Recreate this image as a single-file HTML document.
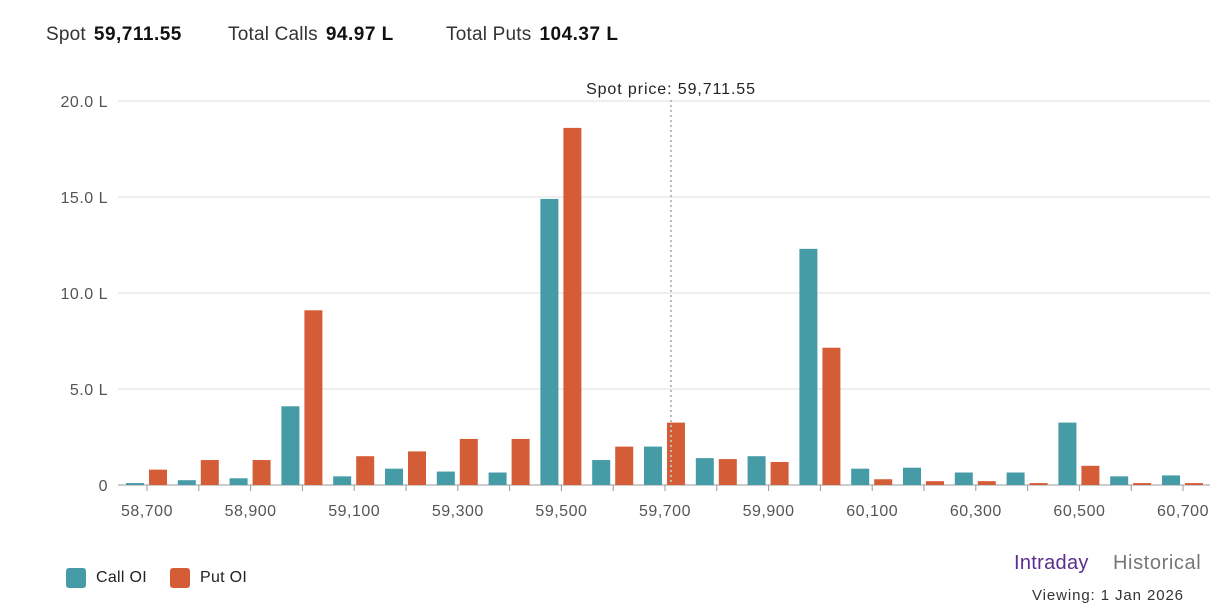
<!DOCTYPE html>
<html><head><meta charset="utf-8">
<style>
body{margin:0;background:#fff;font-family:"Liberation Sans",sans-serif;}
.wrap{position:relative;width:1223px;height:611px;overflow:hidden;}
.hs{position:absolute;top:24px;font-size:19px;color:#333;white-space:nowrap;letter-spacing:0.2px;}
.hs b{color:#111;margin-left:8px;letter-spacing:0.5px;}
.leg{position:absolute;top:568px;font-size:16px;color:#222;display:flex;align-items:center;letter-spacing:0.3px;}
.sw{width:20px;height:20px;border-radius:3px;margin-right:10px;}
</style></head><body>
<div class="wrap">
<div>
<span class="hs" style="left:46px">Spot<b>59,711.55</b></span><span class="hs" style="left:228px">Total Calls<b>94.97 L</b></span><span class="hs" style="left:446px">Total Puts<b>104.37 L</b></span>
</div>
<svg id="chart" width="1223" height="611" style="position:absolute;left:0;top:0"></svg>
<div class="leg" style="left:66px"><div class="sw" style="background:#459ba6"></div>Call OI</div>
<div class="leg" style="left:170px"><div class="sw" style="background:#d45d38"></div>Put OI</div>
<div style="position:absolute;left:1014px;top:552px;font-size:20px;color:#5b2d8e;letter-spacing:0.3px">Intraday</div>
<div style="position:absolute;left:1113px;top:552px;font-size:20px;color:#777;letter-spacing:0.6px">Historical</div>
<div style="position:absolute;left:1032px;top:587px;font-size:15px;color:#333;letter-spacing:0.9px">Viewing: 1 Jan 2026</div>
</div>
<script>
const strikes=[58700,58800,58900,59000,59100,59200,59300,59400,59500,59600,59700,59800,59900,60000,60100,60200,60300,60400,60500,60600,60700];
const callOI=[0.1,0.25,0.35,4.1,0.45,0.85,0.7,0.65,14.9,1.3,2.0,1.4,1.5,12.3,0.85,0.9,0.65,0.65,3.25,0.45,0.5];
const putOI=[0.8,1.3,1.3,9.1,1.5,1.75,2.4,2.4,18.6,2.0,3.25,1.35,1.2,7.15,0.3,0.2,0.2,0.1,1.0,0.1,0.1];
const yTicks=[0,5,10,15,20];
const yTickLabels=["0","5.0 L","10.0 L","15.0 L","20.0 L"];
const xLabels=[58700,58900,59100,59300,59500,59700,59900,60100,60300,60500,60700];
const spot=59711.55;
const svg=document.getElementById('chart');const NS='http://www.w3.org/2000/svg';
const x=v=>147+(v-58700)*(1183-147)/2000;
const y=v=>485-v*19.2;
function mk(t,a,p){const e=document.createElementNS(NS,t);for(const k in a)e.setAttribute(k,a[k]);(p||svg).appendChild(e);return e;}
yTicks.forEach((t,i)=>{
 const l=mk('line',{x1:118,x2:1210,y1:y(t),y2:y(t),stroke:t===0?'#999':'#ddd','stroke-width':1});
 
 
 const tx=mk('text',{x:108,y:y(t)+6,'text-anchor':'end','font-size':16,fill:'#555','letter-spacing':0.5,'font-family':'Liberation Sans, sans-serif'});
 tx.textContent=yTickLabels[i];
 
 
});
strikes.forEach((s,i)=>{
 const cx=x(s);
 const tk=mk('line',{x1:cx,x2:cx,y1:485,y2:491,stroke:'#999'});
 
 
 const c=mk('rect',{x:cx-21,y:y(callOI[i]),width:18,height:485-y(callOI[i]),fill:'#459ba6'});
 
 
 const p=mk('rect',{x:cx+2,y:y(putOI[i]),width:18,height:485-y(putOI[i]),fill:'#d45d38'});
 
 
});
xLabels.forEach(s=>{
 const t=mk('text',{x:x(s),y:516,'text-anchor':'middle','font-size':16,fill:'#555','letter-spacing':0.5,'font-family':'Liberation Sans, sans-serif'});
 t.textContent=s.toLocaleString('en-US');
 
 
});
const sl=mk('line',{x1:x(spot),x2:x(spot),y1:100,y2:485,stroke:'#bbb','stroke-width':2,'stroke-dasharray':'2,3'});


const st=mk('text',{x:x(spot),y:94,'text-anchor':'middle','font-size':16,fill:'#222','letter-spacing':0.9,'font-family':'Liberation Sans, sans-serif'});
st.textContent='Spot price: 59,711.55';


</script>
</body></html>
